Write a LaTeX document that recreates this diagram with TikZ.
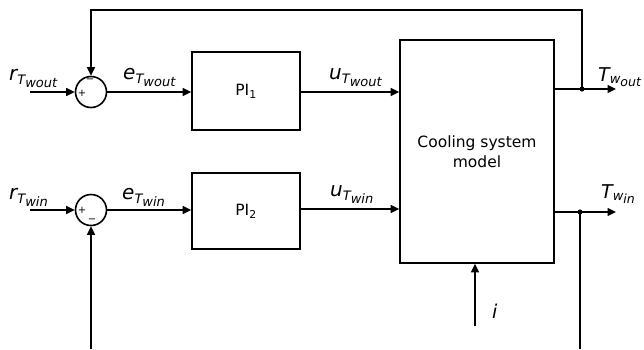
\documentclass[tikz,border=0pt]{standalone}
\usepackage{fontspec}
\setmainfont{DejaVu Sans}
\usetikzlibrary{arrows.meta}
\newcommand{\lblA}[3]{{\fontsize{20}{20}\selectfont\itshape #1}\raisebox{-4pt}{\fontsize{13}{13}\selectfont\itshape #2\raisebox{-3.5pt}{#3}}}
\newcommand{\lblB}[3]{{\fontsize{19}{19}\selectfont\itshape #1}\raisebox{-2.5pt}{\fontsize{13}{13}\selectfont\itshape #2\raisebox{-3pt}{\fontsize{12.5}{12.5}\selectfont #3}}}
\begin{document}
\begin{tikzpicture}[x=1pt,y=-1pt,
  ln/.style={line width=1.6pt},
  arr/.style={ln,-{Triangle[length=8.5pt,width=8pt]}},
  blk/.style={draw,line width=1.6pt,inner sep=0pt,font=\fontsize{15.5}{20}\selectfont,align=center},
  sumc/.style={draw,circle,line width=1.6pt,minimum size=31pt,inner sep=0pt},
  sgn/.style={font=\fontsize{10}{10}\selectfont,inner sep=0pt},
  lbl/.style={anchor=base west,inner sep=0pt}]
\useasboundingbox (0,0) rectangle (644,349);
% blocks
\node[sumc] (s1) at (91,92) {};
\node[sumc] (s2) at (91,210) {};
\node[blk,minimum width=108pt,minimum height=78pt] (pi1) at (246,91) {PI\textsubscript{1}};
\node[blk,minimum width=108pt,minimum height=76pt] (pi2) at (246,211) {PI\textsubscript{2}};
\node[blk,minimum width=154pt,minimum height=223pt] (csm) at (477,151.5) {Cooling system\\model};
% signs
\node[sgn] (s1m) at (90,81) {−};
\node[sgn] (s1p) at (82,93) {+};
\node[sgn] (s2p) at (82,210) {+};
\node[sgn] (s2m) at (92,221) {−};
% coordinates
\coordinate (r1) at (30,92);
\coordinate (r2) at (30,210);
\coordinate (j1) at (582,89);
\coordinate (o1) at (616,89);
\coordinate (j2) at (580,212);
\coordinate (o2) at (616,212);
\coordinate (tp) at (582,10);
\coordinate (tl) at (91,10);
\coordinate (b2) at (91,349);
\coordinate (bj) at (580,349);
\coordinate (ib) at (475,326);
% connectors
\draw[arr] (r1) -- (s1.west);
\draw[arr] (r2) -- (s2.west);
\draw[arr] (s1.east) -- (pi1.west |- s1.east);
\draw[arr] (s2.east) -- (pi2.west |- s2.east);
\draw[arr] (pi1.east |- 0,92) -- (csm.west |- 0,92);
\draw[arr] (pi2.east |- 0,209) -- (csm.west |- 0,209);
\draw[arr] (csm.east |- j1) -- (o1);
\draw[arr] (csm.east |- j2) -- (o2);
\draw[arr] (j1) -- (tp) -- (tl) -- (s1.north);
\draw[arr] (b2) -- (s2.south);
\draw[ln] (j2) -- (bj);
\draw[arr] (ib) -- (csm.south -| ib);
\fill (j1) circle (2.6pt);
\fill (j2) circle (2.6pt);
% labels
\node[lbl] (lr1) at (9,80) {\lblA{r}{T}{wout}};
\node[lbl] (le1) at (123,79) {\lblA{e}{T}{wout}};
\node[lbl] (lu1) at (329,79) {\lblA{u}{T}{wout}};
\node[lbl] (lr2) at (9,199) {\lblA{r}{T}{win}};
\node[lbl] (le2) at (122,199) {\lblA{e}{T}{win}};
\node[lbl] (lu2) at (330,196) {\lblA{u}{T}{win}};
\node[lbl] (lt1) at (598,81) {\lblB{T}{w}{out}};
\node[lbl] (lt2) at (601,198) {\lblB{T}{w}{in}};
\node[lbl] (li) at (492,318) {{\fontsize{19}{19}\selectfont\itshape i}};
\end{tikzpicture}
\end{document}
